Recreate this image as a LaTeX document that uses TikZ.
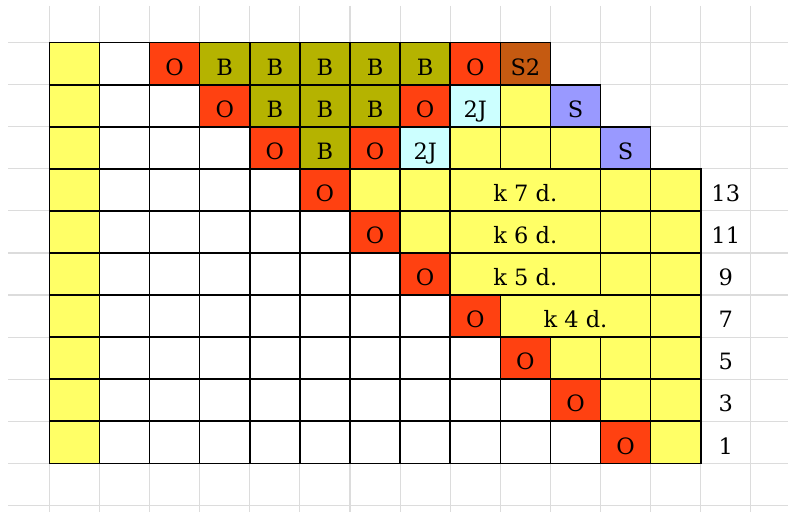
\documentclass[tikz,border=0pt]{standalone}
\usepackage{fontspec}
\setmainfont{DejaVu Serif}
\usepackage{xcolor}
\definecolor{gridLight}{HTML}{DCDCDC}
\definecolor{cellYellow}{HTML}{FFFF66}
\definecolor{cellRed}{HTML}{FF4111}
\definecolor{cellOlive}{HTML}{B5B300}
\definecolor{cellBrown}{HTML}{C55A11}
\definecolor{cellCyan}{HTML}{CCFFFF}
\definecolor{cellViolet}{HTML}{9999FF}
\tikzset{
  cell/.style={draw=black, line width=1.1pt},
  lbl/.style={anchor=base, inner sep=0pt, font=\fontsize{16}{18}\selectfont},
}

\begin{document}
\begin{tikzpicture}[x=1.2525cm, y=-1.0515cm]
  \useasboundingbox (-0.986,-1.015) rectangle (14.742,11.158);
  % sheet grid
  \foreach \c in {0,...,14}
    \draw[gridLight, line width=0.8pt] (\c,-0.873) -- (\c,11.158);
  \foreach \r in {0,...,11}
    \draw[gridLight, line width=0.8pt] (-0.826,\r) -- (14.742,\r);

  % first column, empty cells and the diagonal
  \foreach \r [evaluate=\r as \d using int(\r+1), evaluate=\r as \o using int(\r+2)] in {0,...,9} {
    \filldraw[cell, fill=cellYellow] (0,\r) rectangle (1,\r+1);
    \foreach \c in {1,...,\d}
      \filldraw[cell, fill=white] (\c,\r) rectangle (\c+1,\r+1);
    \filldraw[cell, fill=cellRed] (\o,\r) rectangle (\o+1,\r+1);
    \node[lbl] (o\r) at (\o+0.5,\r+0.78) {O};
  }

  % B block
  \foreach \c/\r in {3/0,4/0,5/0,6/0,7/0,4/1,5/1,6/1,5/2} {
    \filldraw[cell, fill=cellOlive] (\c,\r) rectangle (\c+1,\r+1);
    \node[lbl] (b\c\r) at (\c+0.5,\r+0.78) {B};
  }
  \foreach \c/\r in {8/0,7/1,6/2} {
    \filldraw[cell, fill=cellRed] (\c,\r) rectangle (\c+1,\r+1);
    \node[lbl] (ox\r) at (\c+0.5,\r+0.78) {O};
  }
  \filldraw[cell, fill=cellBrown] (9,0) rectangle (10,1);
  \node[lbl] (s2) at (9.5,0.78) {S2};
  \foreach \c/\r in {8/1,7/2} {
    \filldraw[cell, fill=cellCyan] (\c,\r) rectangle (\c+1,\r+1);
    \node[lbl] (j\r) at (\c+0.5,\r+0.78) {2J};
  }
  \foreach \c/\r in {10/1,11/2} {
    \filldraw[cell, fill=cellViolet] (\c,\r) rectangle (\c+1,\r+1);
    \node[lbl] (s\r) at (\c+0.5,\r+0.78) {S};
  }

  % yellow cells
  \foreach \c/\r in {9/1,8/2,9/2,10/2,6/3,7/3,11/3,12/3,7/4,11/4,12/4,11/5,12/5,
                     12/6,10/7,11/7,12/7,11/8,12/8,12/9}
    \filldraw[cell, fill=cellYellow] (\c,\r) rectangle (\c+1,\r+1);
  \foreach \c/\r/\k in {8/3/7,8/4/6,8/5/5,9/6/4} {
    \filldraw[cell, fill=cellYellow] (\c,\r) rectangle (\c+3,\r+1);
    \node[lbl] (k\k) at (\c+1.5,\r+0.78) {k \k{} d.};
  }

  % row numbers
  \foreach \r [evaluate=\r as \n using int(2*(9-\r)+1)] in {3,...,9}
    \node[lbl] (n\r) at (13.5,\r+0.78) {\n};
\end{tikzpicture}
\end{document}
